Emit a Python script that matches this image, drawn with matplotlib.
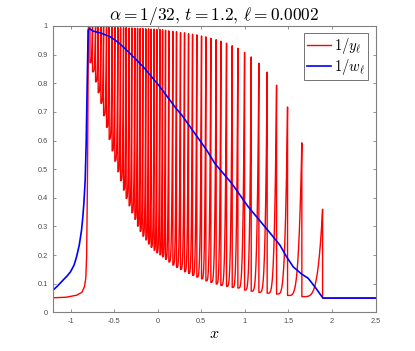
import numpy as np
import matplotlib
matplotlib.use('Agg')
import matplotlib.pyplot as plt

plt.rcParams['mathtext.fontset'] = 'cm'

# red curve 1/y_l : steep rise on the left
rise_x = [-1.2, -1.05, -0.93, -0.87, -0.84, -0.825, -0.815, -0.805, -0.795]
rise_y = [0.051, 0.053, 0.06, 0.07, 0.09, 0.12, 0.2, 0.5, 0.995]

# red curve teeth: position of each drop, value before and after the drop
drop_x = [-0.777, -0.748, -0.713, -0.683, -0.652, -0.621, -0.587, -0.557, -0.523,
          -0.492, -0.457, -0.426, -0.392, -0.362, -0.328, -0.297, -0.262, -0.231,
          -0.201, -0.170, -0.136, -0.105, -0.075, -0.041, -0.010, 0.025, 0.056,
          0.090, 0.128, 0.174, 0.216, 0.262, 0.308, 0.354, 0.400, 0.449, 0.503,
          0.553, 0.610, 0.671, 0.725, 0.790, 0.855, 0.920, 0.997, 1.073, 1.161,
          1.256, 1.364, 1.490, 1.654, 1.892]
drop_top = [0.999, 0.999, 0.998, 0.998, 0.998, 0.997, 0.997, 0.997, 0.996,
            0.996, 0.995, 0.995, 0.994, 0.994, 0.993, 0.993, 0.992, 0.992,
            0.991, 0.991, 0.990, 0.990, 0.989, 0.989, 0.988, 0.988, 0.987,
            0.985, 0.983, 0.981, 0.980, 0.977, 0.976, 0.973, 0.971, 0.969, 0.965,
            0.962, 0.957, 0.952, 0.947, 0.940, 0.931, 0.922, 0.908, 0.892, 0.870,
            0.839, 0.793, 0.717, 0.592, 0.360]
drop_bottom = [0.872, 0.840, 0.805, 0.767, 0.730, 0.687, 0.646, 0.604, 0.564,
               0.528, 0.491, 0.460, 0.427, 0.398, 0.372, 0.348, 0.325, 0.301,
               0.283, 0.266, 0.253, 0.239, 0.227, 0.217, 0.208, 0.201, 0.194,
               0.185, 0.176, 0.165, 0.157, 0.150, 0.142, 0.136, 0.129, 0.123, 0.117,
               0.110, 0.105, 0.099, 0.094, 0.091, 0.087, 0.085, 0.078, 0.074, 0.070,
               0.067, 0.064, 0.059, 0.055, 0.050]
x_end = 2.5
tail_level = 0.05

# blue curve 1/w_l
blue_x = [-1.2, -1.15, -1.085, -1.04, -1.0, -0.96, -0.931, -0.9, -0.874, -0.86,
          -0.847, -0.832, -0.82, -0.81, -0.798,
          -0.78, -0.741, -0.65, -0.549, -0.45, -0.357, -0.167, 0.025, 0.216, 0.274,
          0.561, 0.656, 0.848, 1.038, 1.230, 1.325, 1.402, 1.479, 1.555, 1.651,
          1.727, 1.804, 1.896, 2.5]
blue_y = [0.078, 0.092, 0.113, 0.127, 0.142, 0.165, 0.194, 0.235, 0.287, 0.33,
          0.381, 0.462, 0.60, 0.78, 0.986,
          0.99, 0.982, 0.975, 0.963, 0.942, 0.916, 0.858, 0.788, 0.71, 0.69,
          0.567, 0.520, 0.451, 0.369, 0.299, 0.264, 0.235, 0.194, 0.159, 0.134,
          0.119, 0.089, 0.050, 0.050]

xticks = [-1, -0.5, 0, 0.5, 1, 1.5, 2, 2.5]
xtick_labels = ['-1', '-0.5', '0', '0.5', '1', '1.5', '2', '2.5']
yticks = [0, 0.1, 0.2, 0.3, 0.4, 0.5, 0.6, 0.7, 0.8, 0.9, 1]
ytick_labels = ['0', '0.1', '0.2', '0.3', '0.4', '0.5', '0.6', '0.7', '0.8', '0.9', '1']

# build the red path: vertical drop, then a convex rise to the next peak
tooth_shape = 4.5
rx = list(rise_x)
ry = list(rise_y)
for i in range(len(drop_x)):
    rx += [drop_x[i], drop_x[i]]
    ry += [drop_top[i], drop_bottom[i]]
    if i + 1 < len(drop_x):
        t = np.linspace(0, 1, 40)[1:-1]
        rx += list(drop_x[i] + t * (drop_x[i + 1] - drop_x[i]))
        ry += list(drop_bottom[i] + (drop_top[i + 1] - drop_bottom[i]) * t ** tooth_shape)
rx += [x_end]
ry += [tail_level]

fig = plt.figure(figsize=(4.15, 3.51), dpi=100)
ax = fig.add_axes([0.128, 0.110, 0.777, 0.816])

ax.plot(rx, ry, color='red', lw=1.0, label=r'$1/y_\ell$')
ax.plot(blue_x, blue_y, color='blue', lw=1.2, label=r'$1/w_\ell$')

ax.set_xlim(-1.2, 2.5)
ax.set_ylim(0, 1)
ax.set_xticks(xticks)
ax.set_xticklabels(xtick_labels)
ax.set_yticks(yticks)
ax.set_yticklabels(ytick_labels)

axis_grey = '0.5'
for s in ax.spines.values():
    s.set_color(axis_grey)
    s.set_linewidth(0.8)
ax.tick_params(direction='in', length=2.5, width=0.6, color=axis_grey,
               top=True, right=True, labelsize=5.3, labelcolor='0.3', pad=4)
for lab in ax.get_xticklabels() + ax.get_yticklabels():
    lab.set_family('Liberation Sans')

ax.set_title(r'$\alpha = 1/32,\, t = 1.2,\, \ell = 0.0002$', fontsize=12.5, pad=4)
ax.set_xlabel(r'$x$', fontsize=11.5, labelpad=1)

leg = ax.legend(loc='upper right', fontsize=10.5, fancybox=False, framealpha=1,
                handlelength=1.7, handletextpad=0.2, borderpad=0.2,
                labelspacing=0.05, borderaxespad=0.5)
leg.get_frame().set_edgecolor('0.45')
leg.get_frame().set_linewidth(0.7)

fig.savefig('out.png', dpi=100)
